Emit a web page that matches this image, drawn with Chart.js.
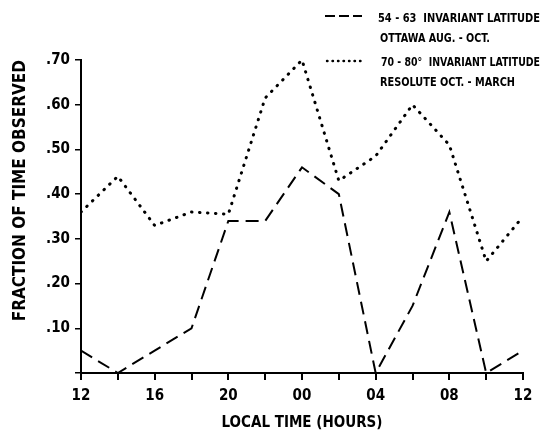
<!DOCTYPE html>
<html lang="en">
<head>
    <meta charset="UTF-8">
    <title>Fraction of Time Observed</title>
    <script src="https://cdn.jsdelivr.net/npm/chart.js"></script>
    <style>
        body { margin: 0; background: #fff; }
        #wrap { width: 541px; height: 433px; position: relative; }
    </style>
</head>
<body>
    <div id="wrap"><canvas id="fracChart"></canvas></div>

    <script>
        // hours after local noon, every 2 h
        const hours = [0, 2, 4, 6, 8, 10, 12, 14, 16, 18, 20, 22, 24];
        const ottawa = [0.05, 0.00, 0.05, 0.10, 0.34, 0.34, 0.46, 0.40, 0.00, 0.15, 0.36, 0.00, 0.05];
        const resolute = [0.36, 0.44, 0.33, 0.36, 0.355, 0.615, 0.70, 0.43, 0.485, 0.60, 0.51, 0.25, 0.35];
        const yTicks = [0, 0.1, 0.2, 0.3, 0.4, 0.5, 0.6, 0.7];
        const legendLines = [
            ['54 - 63  INVARIANT LATITUDE', 'OTTAWA AUG. - OCT.'],
            ['70 - 80\u00B0  INVARIANT LATITUDE', 'RESOLUTE OCT. - MARCH']
        ];

        const FONT = '"DejaVu Sans Condensed", "DejaVu Sans", Arial, sans-serif';

        const toPts = arr => arr.map((v, i) => ({ x: hours[i], y: v }));

        // squeeze text to a given width, old typewriter-ish condensed look
        function narrowText(c, txt, x, y, w) {
            const nat = c.measureText(txt).width;
            c.save();
            c.translate(x, y);
            c.scale(w / nat, 1);
            c.fillText(txt, 0, 0);
            c.restore();
        }

        // legend drawn by hand, top right
        const legendPlugin = {
            id: 'paperLegend',
            afterDraw(chart) {
                const c = chart.ctx;
                c.save();
                c.strokeStyle = '#000';
                c.fillStyle = '#000';
                c.font = 'bold 12px ' + FONT;
                c.textBaseline = 'alphabetic';

                c.lineWidth = 2;
                c.setLineDash([10, 4]);
                c.beginPath();
                c.moveTo(325, 16);
                c.lineTo(362, 16);
                c.stroke();

                c.lineWidth = 2.4;
                c.lineCap = 'round';
                c.setLineDash([0.5, 5]);
                c.beginPath();
                c.moveTo(327, 61);
                c.lineTo(362, 61);
                c.stroke();
                c.setLineDash([]);

                narrowText(c, legendLines[0][0], 378, 22, 162);
                narrowText(c, legendLines[0][1], 380, 42, 110);
                narrowText(c, legendLines[1][0], 381, 66, 159);
                narrowText(c, legendLines[1][1], 380, 86, 135);
                c.restore();
            }
        };

        const ctx = document.getElementById('fracChart').getContext('2d');
        new Chart(ctx, {
            type: 'line',
            data: {
                datasets: [{
                    label: 'Ottawa',
                    data: toPts(ottawa),
                    borderColor: '#000',
                    borderWidth: 2,
                    borderDash: [13, 7],
                    pointRadius: 0,
                    tension: 0
                }, {
                    label: 'Resolute',
                    data: toPts(resolute),
                    borderColor: '#000',
                    borderWidth: 3,
                    borderDash: [0.5, 7.5],
                    borderCapStyle: 'round',
                    pointRadius: 0,
                    tension: 0
                }]
            },
            options: {
                responsive: true,
                maintainAspectRatio: false,
                animation: false,
                layout: { padding: { top: 60, right: 18, left: 0, bottom: 0 } },
                plugins: {
                    legend: { display: false },
                    tooltip: { enabled: false }
                },
                scales: {
                    x: {
                        type: 'linear',
                        min: 0,
                        max: 24,
                        afterFit: s => { s.height = 60; },
                        afterBuildTicks: s => { s.ticks = hours.map(v => ({ value: v })); },
                        ticks: {
                            autoSkip: false,
                            maxRotation: 0,
                            padding: 7,
                            color: '#000',
                            font: { family: FONT, size: 15, weight: 'bold' },
                            callback: v => v % 4 === 0 ? String((12 + v) % 24).padStart(2, '0') : ''
                        },
                        grid: { drawOnChartArea: false, drawTicks: true, tickLength: 7, color: '#000', lineWidth: 2 },
                        border: { display: true, color: '#000', width: 2 },
                        title: {
                            display: true,
                            text: 'LOCAL TIME (HOURS)',
                            color: '#000',
                            font: { family: FONT, size: 15, weight: 'bold', lineHeight: 1 },
                            padding: { top: 0, bottom: 2 }
                        }
                    },
                    y: {
                        min: 0,
                        max: 0.7,
                        afterFit: s => { s.width = 81; },
                        afterBuildTicks: s => { s.ticks = yTicks.map(v => ({ value: v })); },
                        ticks: {
                            padding: 5,
                            color: '#000',
                            font: { family: FONT, size: 15, weight: 'bold' },
                            callback: v => v === 0 ? '' : '.' + Math.round(v * 100)
                        },
                        grid: { drawOnChartArea: false, drawTicks: true, tickLength: 6, color: '#000', lineWidth: 1.5 },
                        border: { display: true, color: '#000', width: 2 },
                        title: {
                            display: true,
                            text: 'FRACTION OF TIME OBSERVED',
                            align: 'end',
                            color: '#000',
                            font: { family: FONT, size: 17, weight: 'bold', lineHeight: 1 },
                            padding: { top: 12, bottom: 0 }
                        }
                    }
                }
            },
            plugins: [legendPlugin]
        });
    </script>
</body>
</html>
